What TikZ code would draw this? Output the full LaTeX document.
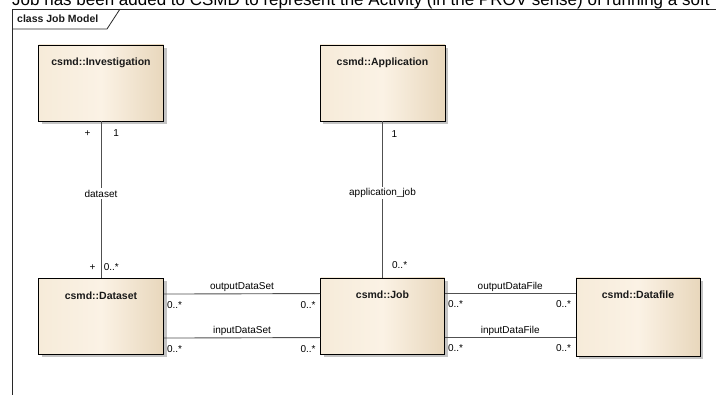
\documentclass[tikz,border=0pt]{standalone}
\usepackage{fontspec}
\setmainfont{Liberation Sans}
\usetikzlibrary{positioning, shadows, calc}
\definecolor{eaedge}{RGB}{40, 40, 40}
\definecolor{eabeige}{RGB}{246, 235, 217}
\definecolor{eacream}{RGB}{251, 242, 229}
\definecolor{eatan}{RGB}{232, 215, 188}
\definecolor{ealine}{RGB}{80, 80, 80}
\tikzset{
  classbox/.style={
    draw=black,
    line width=0.9pt,
    left color=eabeige,
    right color=eatan,
    middle color=eacream,
    minimum width=125pt,
    minimum height=76pt,
    inner sep=0pt,
    drop shadow={shadow xshift=3pt, shadow yshift=-3pt, fill=black!23, opacity=1}
  },
  classtitle/.style={
    font=\fontsize{10.5}{12}\selectfont\bfseries,
    text=black!90,
    inner sep=1pt
  },
  frameline/.style={
    draw=eaedge,
    line width=0.8pt
  },
  assoc/.style={
    draw=ealine,
    line width=0.9pt
  },
  mult/.style={
    font=\fontsize{10}{12}\selectfont,
    text=black,
    inner sep=1.5pt
  },
  role/.style={
    font=\fontsize{10}{12}\selectfont,
    text=black,
    inner sep=1.5pt
  }
}

\begin{document}
\begin{tikzpicture}[x=1pt, y=-1pt]
  \clip (0,0) rectangle (716,395);

  % caption line cut off by the page edge
  \node[anchor=base west, inner sep=0pt, font=\fontsize{17}{20}\selectfont] (caption) at (12,6)
        {Job has been added to CSMD to represent the Activity (in the PROV sense) of running a soft};

  % diagram frame
  \draw[frameline] (12,395) -- (12,9) -- (716,9);
  \draw[frameline] (12,29) -- (107,29) -- (120,9);
  \node[classtitle, anchor=west] (framelabel) at (16,19) {class Job Model};

  % classes
  \node[classbox] (inv)      at (101,83)    {};
  \node[classbox] (app)      at (382.5,83)  {};
  \node[classbox] (dataset)  at (101,316.5) {};
  \node[classbox, minimum width=124pt] (job)      at (382.5,316) {};
  \node[classbox, minimum width=124pt, minimum height=78pt] (datafile) at (638,317) {};

  \node[classtitle, below=12.5pt of inv.north]      (invtitle)      {csmd::Investigation};
  \node[classtitle, below=12.5pt of app.north]      (apptitle)      {csmd::Application};
  \node[classtitle, below=12.5pt of dataset.north]  (datasettitle)  {csmd::Dataset};
  \node[classtitle, below=12.5pt of job.north]      (jobtitle)      {csmd::Job};
  \node[classtitle, below=12.5pt of datafile.north] (datafiletitle) {csmd::Datafile};

  % associations
  \path (inv) edge[assoc]
          node[role, fill=white, pos=0.46] (datasetrole) {dataset}
          node[mult, at start, anchor=base east, xshift=-8.5pt, yshift=-15.5pt] (invplus) {+}
          node[mult, at start, anchor=base west, xshift=10.5pt, yshift=-15.5pt] (invone) {1}
          node[mult, at end, anchor=base east, xshift=-3.5pt, yshift=8pt] (datasetplus) {+}
          node[mult, at end, anchor=base west, xshift=0.8pt, yshift=8pt] (datasetmany) {0..*}
        (dataset);

  \path (app) edge[assoc]
          node[role, fill=white, pos=0.46] (appjobrole) {application\_job}
          node[mult, at start, anchor=base west, xshift=7.2pt, yshift=-16.5pt] (appone) {1}
          node[mult, at end, anchor=base west, xshift=7.7pt, yshift=9.5pt] (jobmany) {0..*}
        (job);

  \path ([yshift=-16pt]dataset.north east) edge[assoc]
          node[role, midway, above] (outsetrole) {outputDataSet}
          node[mult, at start, anchor=base west, xshift=1.2pt, yshift=-14.5pt] (outsetfrom) {0..*}
          node[mult, at end, anchor=base east, xshift=-2.5pt, yshift=-14.5pt] (outsetto) {0..*}
        ([yshift=-16pt]job.north west);

  \path ([yshift=-60pt]dataset.north east) edge[assoc]
          node[role, midway, above] (insetrole) {inputDataSet}
          node[mult, at start, anchor=base west, xshift=1.2pt, yshift=-14.5pt] (insetfrom) {0..*}
          node[mult, at end, anchor=base east, xshift=-2.5pt, yshift=-14.5pt] (insetto) {0..*}
        ([yshift=-60pt]job.north west);

  \path ([yshift=-15.5pt]job.north east) edge[assoc]
          node[role, midway, above] (outfilerole) {outputDataFile}
          node[mult, at start, anchor=base west, xshift=1.2pt, yshift=-14.5pt] (outfilefrom) {0..*}
          node[mult, at end, anchor=base east, xshift=-2.5pt, yshift=-14.5pt] (outfileto) {0..*}
        ([yshift=-15.5pt]job.north east -| datafile.west);

  \path ([yshift=-59.5pt]job.north east) edge[assoc]
          node[role, midway, above] (infilerole) {inputDataFile}
          node[mult, at start, anchor=base west, xshift=1.2pt, yshift=-14.5pt] (infilefrom) {0..*}
          node[mult, at end, anchor=base east, xshift=-2.5pt, yshift=-14.5pt] (infileto) {0..*}
        ([yshift=-59.5pt]job.north east -| datafile.west);
\end{tikzpicture}
\end{document}
